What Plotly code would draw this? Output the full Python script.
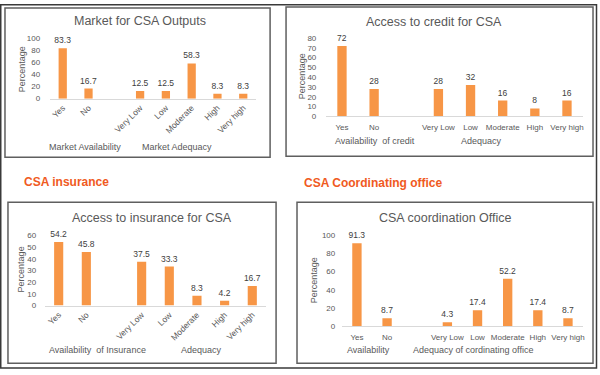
import plotly.graph_objects as go

W, H = 600, 375

# ---------------- data ----------------
avail_cats = ["Yes", "No"]
adeq_cats = ["Very Low", "Low", "Moderate", "High", "Very high"]

market_avail = [83.3, 16.7]
market_adeq = [12.5, 12.5, 58.3, 8.3, 8.3]

credit_avail = [72, 28]
credit_adeq = [28, 32, 16, 8, 16]

insurance_avail = [54.2, 45.8]
insurance_adeq = [37.5, 33.3, 8.3, 4.2, 16.7]

office_avail = [91.3, 8.7]
office_adeq = [4.3, 17.4, 52.2, 17.4, 8.7]

titles = ["Market for CSA Outputs", "Access to credit for CSA",
          "Access to insurance for CSA", "CSA coordination Office"]
group_labels = [["Market Availability", "Market Adequacy"],
                ["Availability  of credit", "Adequacy"],
                ["Availability  of Insurance", "Adequacy"],
                ["Availability", "Adequacy of cordinating office"]]
y_max = [100, 80, 60, 100]
y_step = [20, 10, 10, 20]
section_labels = ["CSA insurance", "CSA Coordinating office"]

# ---------------- layout geometry (pixels) ----------------
panels = [
    dict(box=(5, 4, 271, 157), xd=(50, 257), y0=97, ytop=35, title=(140, 17),
         ytitle=(22, 67), groups=[(85, 147), (178, 147)], angle=-45, standoff=7, bw=0.32,
         catsize=8.5, xtl=0),
    dict(box=(287, 3, 595, 156), xd=(327, 585), y0=115, ytop=35, title=(435, 18),
         ytitle=(303, 74), groups=[(376, 140), (483, 140)], angle=0, standoff=7, bw=0.29,
         catsize=8, xtl=3),
    dict(box=(8, 203, 277, 368), xd=(45, 267), y0=309, ytop=237, title=(153, 219),
         ytitle=(22, 272), groups=[(98, 355), (202, 355)], angle=-45, standoff=6, bw=0.33,
         catsize=8.5, xtl=0),
    dict(box=(298, 203, 595, 368), xd=(343, 585), y0=330, ytop=237, title=(447, 219),
         ytitle=(315, 283), groups=[(370, 355), (475, 355)], angle=0, standoff=4, bw=0.31,
         catsize=8, xtl=3),
]

series = [(market_avail, market_adeq), (credit_avail, credit_adeq),
          (insurance_avail, insurance_adeq), (office_avail, office_adeq)]

FONT = "Liberation Sans, Arial, sans-serif"
GRAY = "#595959"
BAR = "#F79646"


def px(x):
    return x / W


def py(y):
    return 1 - y / H


fig = go.Figure()
shapes = []
annotations = []

for i, (p, (av, ad)) in enumerate(zip(panels, series)):
    n = i + 1
    xa = "x" if n == 1 else f"x{n}"
    ya = "y" if n == 1 else f"y{n}"
    cats = avail_cats + adeq_cats
    xs = list(range(len(avail_cats))) + [len(avail_cats) + 1 + k for k in range(len(adeq_cats))]
    vals = av + ad
    fig.add_trace(go.Bar(
        x=xs, y=vals, xaxis=xa, yaxis=ya,
        marker=dict(color=BAR, line=dict(width=0)),
        width=p["bw"],
        text=[f"{v:g}" for v in vals], textposition="outside",
        textfont=dict(size=8.5, color="#404040", family=FONT),
        constraintext="none", cliponaxis=False, showlegend=False,
        hoverinfo="skip",
    ))
    nslots = len(avail_cats) + 1 + len(adeq_cats)
    xaxis_cfg = dict(
        domain=[px(p["xd"][0]), px(p["xd"][1])],
        anchor=ya, range=[-0.5, nslots - 0.5],
        tickvals=xs, ticktext=cats, tickangle=p["angle"],
        tickfont=dict(size=p["catsize"], color=GRAY, family=FONT),
        showline=True, linecolor="#d9d9d9", linewidth=1,
        showgrid=False, zeroline=False,
        fixedrange=True,
    )
    if p["xtl"] > 0:
        xaxis_cfg.update(ticks="outside", ticklen=p["xtl"], tickcolor="rgba(0,0,0,0)")
    else:
        xaxis_cfg.update(ticks="")
    fig.update_layout(**{
        ("xaxis" if n == 1 else f"xaxis{n}"): xaxis_cfg,
        ("yaxis" if n == 1 else f"yaxis{n}"): dict(
            domain=[py(p["y0"]), py(p["ytop"])],
            anchor=xa, range=[0, y_max[i]], dtick=y_step[i], tick0=0,
            tickfont=dict(size=8, color=GRAY, family=FONT),
            showline=False, showgrid=False, zeroline=False,
            ticks="outside", ticklen=p["standoff"], tickcolor="rgba(0,0,0,0)",
            fixedrange=True,
        ),
    })
    x0, y0, x1, y1 = p["box"]
    shapes.append(dict(type="rect", xref="paper", yref="paper",
                       x0=px(x0), x1=px(x1), y0=py(y0), y1=py(y1),
                       line=dict(color="#5f5f5f", width=1.5), fillcolor="rgba(0,0,0,0)"))
    annotations.append(dict(text=titles[i], xref="paper", yref="paper",
                            x=px(p["title"][0]), y=py(p["title"][1]),
                            xanchor="center", yanchor="middle", showarrow=False,
                            font=dict(size=12.5, color=GRAY, family=FONT)))
    annotations.append(dict(text="Percentage", xref="paper", yref="paper",
                            x=px(p["ytitle"][0]), y=py(p["ytitle"][1]), textangle=-90,
                            xanchor="center", yanchor="middle", showarrow=False,
                            font=dict(size=9, color=GRAY, family=FONT)))
    for lbl, (gx, gy) in zip(group_labels[i], p["groups"]):
        annotations.append(dict(text=lbl, xref="paper", yref="paper",
                                x=px(gx), y=py(gy), xanchor="center", yanchor="middle",
                                showarrow=False,
                                font=dict(size=9, color=GRAY, family=FONT)))

# section headings
for lbl, (sx, sy) in zip(section_labels, [(22, 182), (303, 183)]):
    annotations.append(dict(text=f"<b>{lbl}</b>", xref="paper", yref="paper",
                            x=px(sx), y=py(sy), xanchor="left", yanchor="middle",
                            showarrow=False,
                            font=dict(size=12, color="#F05A22", family=FONT)))

# outer frame
shapes.append(dict(type="rect", xref="paper", yref="paper",
                   x0=px(0.75), x1=px(598.5), y0=py(0.75), y1=py(373),
                   line=dict(color="#3a3a3a", width=1.5), fillcolor="rgba(0,0,0,0)"))

fig.update_layout(
    width=W, height=H, autosize=False,
    margin=dict(l=0, r=0, t=0, b=0, pad=0),
    paper_bgcolor="white", plot_bgcolor="white",
    shapes=shapes, annotations=annotations,
    bargap=0.6,
)

fig.write_html("out.html", config={"displayModeBar": False},
               post_script="document.body.style.margin='0';document.body.style.overflow='hidden';")
